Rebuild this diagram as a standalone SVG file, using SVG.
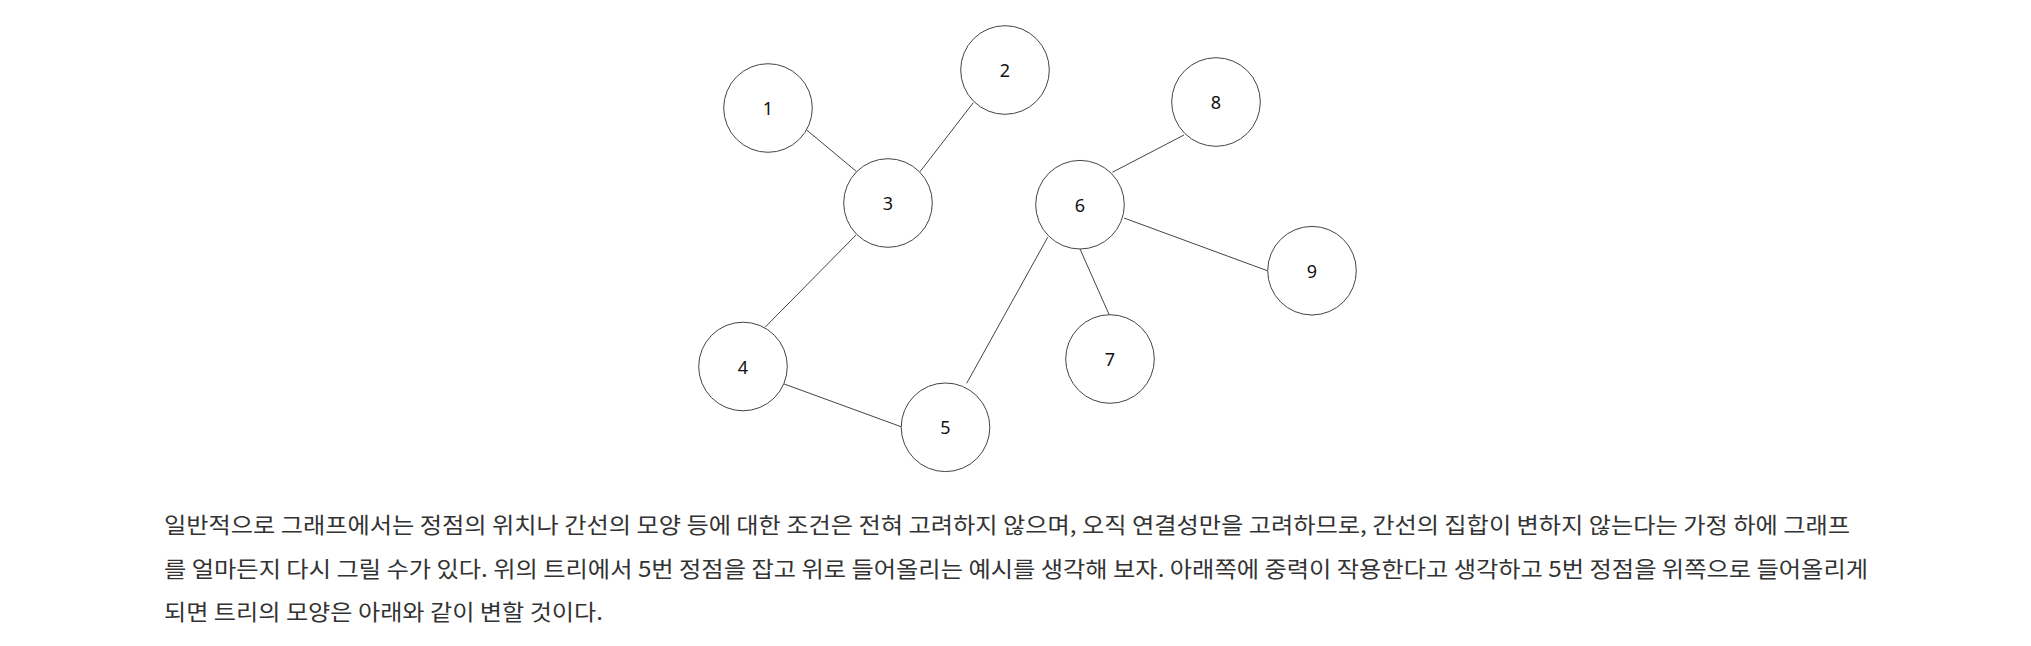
<svg xmlns="http://www.w3.org/2000/svg" width="2031" height="646" viewBox="0 0 2031 646">
<style>
.node circle{fill:#fff;stroke:#444;stroke-width:1}
.node text{font-family:"Noto Sans","Open Sans",sans-serif;font-size:18px;fill:#111;text-anchor:middle;dominant-baseline:central}
.edges line{stroke:#444;stroke-width:1}
.para{font-family:"Noto Sans CJK KR","Noto Sans",sans-serif;font-size:22px;fill:#333}
</style>
<rect width="2031" height="646" fill="#fff"/>
<g id="edges" class="edges">
<line x1="806.7" y1="130" x2="856.7" y2="171.7"/>
<line x1="973.3" y1="102.7" x2="920" y2="171.7"/>
<line x1="856" y1="235" x2="765" y2="327.3"/>
<line x1="782.3" y1="383.3" x2="901" y2="426.7"/>
<line x1="966.7" y1="383.3" x2="1047.7" y2="237.3"/>
<line x1="1112.3" y1="172.3" x2="1184" y2="135"/>
<line x1="1124" y1="218" x2="1267.3" y2="270.7"/>
<line x1="1080" y1="249" x2="1109.3" y2="315"/>
</g>
<g id="node1" class="node"><circle cx="768" cy="108" r="44.3"/><text x="768" y="108">1</text></g>
<g id="node2" class="node"><circle cx="1005" cy="70" r="44.3"/><text x="1005" y="70">2</text></g>
<g id="node3" class="node"><circle cx="888" cy="203" r="44.3"/><text x="888" y="203">3</text></g>
<g id="node4" class="node"><circle cx="743" cy="366.5" r="44.3"/><text x="743" y="366.5">4</text></g>
<g id="node5" class="node"><circle cx="945.5" cy="427.3" r="44.3"/><text x="945.5" y="427.3">5</text></g>
<g id="node6" class="node"><circle cx="1080" cy="204.7" r="44.3"/><text x="1080" y="204.7">6</text></g>
<g id="node7" class="node"><circle cx="1110" cy="359" r="44.3"/><text x="1110" y="359">7</text></g>
<g id="node8" class="node"><circle cx="1216" cy="102" r="44.3"/><text x="1216" y="102">8</text></g>
<g id="node9" class="node"><circle cx="1312" cy="270.7" r="44.3"/><text x="1312" y="270.7">9</text></g>
<g id="paragraph">
<text class="para" x="164" y="533" textLength="1686" lengthAdjust="spacingAndGlyphs">일반적으로 그래프에서는 정점의 위치나 간선의 모양 등에 대한 조건은 전혀 고려하지 않으며, 오직 연결성만을 고려하므로, 간선의 집합이 변하지 않는다는 가정 하에 그래프</text>
<text class="para" x="164" y="576.5" textLength="1704" lengthAdjust="spacingAndGlyphs">를 얼마든지 다시 그릴 수가 있다. 위의 트리에서 5번 정점을 잡고 위로 들어올리는 예시를 생각해 보자. 아래쪽에 중력이 작용한다고 생각하고 5번 정점을 위쪽으로 들어올리게</text>
<text class="para" x="164" y="620" textLength="439" lengthAdjust="spacingAndGlyphs">되면 트리의 모양은 아래와 같이 변할 것이다.</text>
</g>
</svg>
